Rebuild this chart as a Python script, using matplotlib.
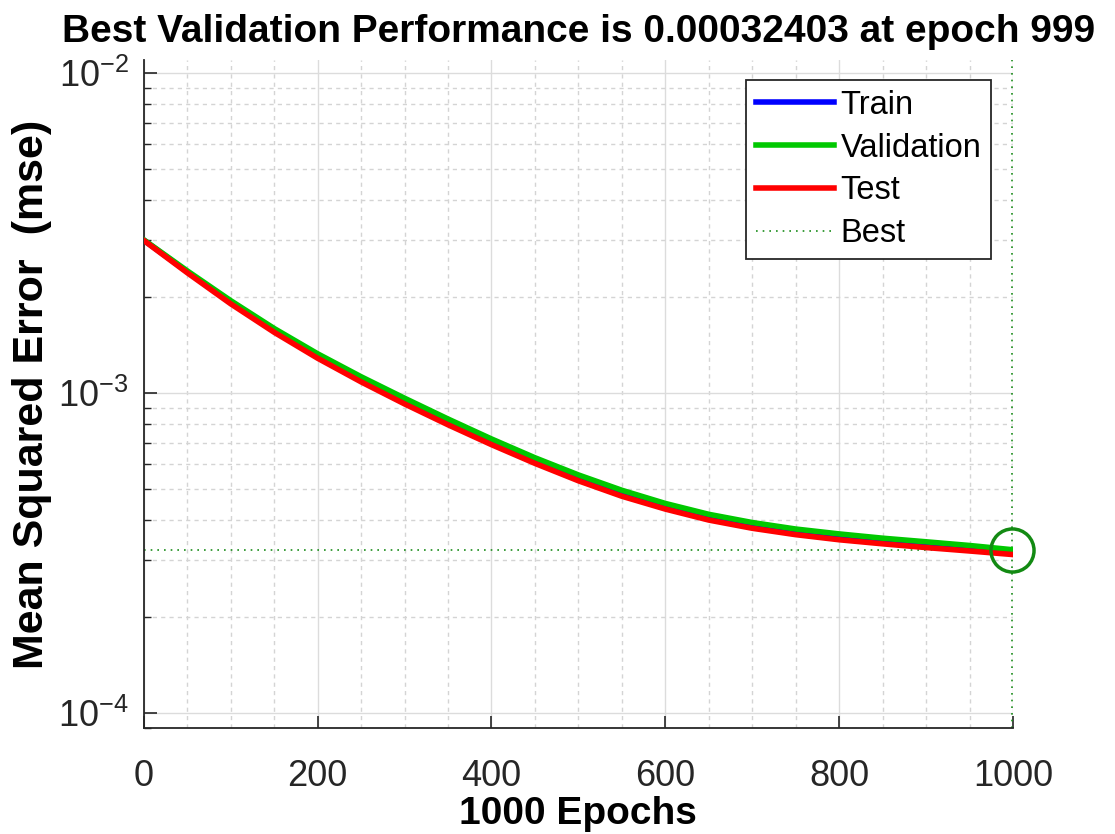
import numpy as np
import matplotlib
matplotlib.use('Agg')
import matplotlib.pyplot as plt
import matplotlib.ticker as ticker

plt.rcParams['font.family'] = ['Liberation Sans', 'DejaVu Sans']
plt.rcParams['mathtext.fontset'] = 'custom'
plt.rcParams['mathtext.rm'] = 'Liberation Sans'

# values
epochs = [0, 50, 100, 150, 200, 250, 300, 350, 400, 450, 500,
          550, 600, 650, 700, 750, 800, 850, 900, 950, 999]
train_mse = [3.006e-3, 2.393e-3, 1.923e-3, 1.570e-3, 1.306e-3, 1.104e-3, 9.44e-4,
             8.13e-4, 7.05e-4, 6.15e-4, 5.43e-4, 4.86e-4, 4.43e-4, 4.09e-4,
             3.85e-4, 3.68e-4, 3.56e-4, 3.45e-4, 3.36e-4, 3.27e-4, 3.18e-4]
val_mse = [3.013e-3, 2.410e-3, 1.945e-3, 1.592e-3, 1.327e-3, 1.125e-3, 9.64e-4,
           8.30e-4, 7.19e-4, 6.28e-4, 5.55e-4, 4.97e-4, 4.52e-4, 4.18e-4,
           3.94e-4, 3.76e-4, 3.63e-4, 3.52e-4, 3.43e-4, 3.34e-4, 3.2403e-4]
test_mse = [2.999e-3, 2.377e-3, 1.901e-3, 1.549e-3, 1.285e-3, 1.084e-3, 9.25e-4,
            7.96e-4, 6.90e-4, 6.03e-4, 5.32e-4, 4.76e-4, 4.34e-4, 4.01e-4,
            3.78e-4, 3.61e-4, 3.48e-4, 3.38e-4, 3.29e-4, 3.21e-4, 3.13e-4]
best_epoch = 999
best_perf = 0.00032403

xticks = [0, 200, 400, 600, 800, 1000]
yticks = [1e-4, 1e-3, 1e-2]
ytick_labels = [r'$\mathregular{10^{-4}}$', r'$\mathregular{10^{-3}}$', r'$\mathregular{10^{-2}}$']

fig = plt.figure(figsize=(11.15, 8.34), dpi=100)
ax = fig.add_axes([0.129, 0.127, 0.9085 - 0.129, 0.928 - 0.127])

lw = 4.0
ax.plot(epochs, train_mse, color='#0000ff', lw=lw, label='Train', zorder=3)
ax.plot(epochs, val_mse, color='#00c800', lw=lw, label='Validation', zorder=4)
ax.plot(epochs, test_mse, color='#ff0000', lw=lw, label='Test', zorder=5)
ax.axhline(best_perf, color='#1a8c1a', lw=1.2, ls=(0, (1, 3)), label='Best', zorder=2)
ax.axvline(best_epoch, color='#1a8c1a', lw=1.2, ls=(0, (1, 3)), zorder=2)
ax.plot([best_epoch], [best_perf], 'o', ms=31, mfc='none', mec='#138a13', mew=2.5,
        zorder=6, clip_on=False)

ax.set_yscale('log')
ax.set_xlim(0, 1000)
ax.set_ylim(10 ** -4.047, 10 ** -1.959)

ax.set_xticks(xticks)
ax.xaxis.set_minor_locator(ticker.MultipleLocator(50))
ax.set_yticks(yticks)
ax.set_yticklabels(ytick_labels)
ax.yaxis.set_minor_locator(ticker.LogLocator(base=10, subs=np.arange(2, 10)))
ax.yaxis.set_minor_formatter(ticker.NullFormatter())

ax.grid(which='major', color='#dcdcdc', lw=1.0, ls='-')
ax.grid(which='minor', color='#d4d4d4', lw=1.0, ls=(0, (3, 3)))
ax.set_axisbelow(True)

for s in ['top', 'right']:
    ax.spines[s].set_visible(False)
for s in ['left', 'bottom']:
    ax.spines[s].set_color('#262626')
    ax.spines[s].set_linewidth(1.3)

ax.tick_params(which='both', direction='in', colors='#262626', labelcolor='#262626')
ax.tick_params(which='major', length=9, width=1.2, labelsize=26)
ax.tick_params(axis='x', which='major', pad=22)
ax.tick_params(axis='y', which='major', pad=11)
ax.tick_params(which='minor', length=5, width=1.0)
ax.tick_params(axis='x', which='minor', length=0)

ax.set_title('Best Validation Performance is 0.00032403 at epoch 999',
             fontsize=28, fontweight='bold', pad=13)
ax.set_xlabel('1000 Epochs', fontsize=28, fontweight='bold', labelpad=2)
ax.set_ylabel('Mean Squared Error  (mse)', fontsize=31, fontweight='bold', labelpad=4)

leg = ax.legend(loc='upper right', bbox_to_anchor=(0.975, 0.970), borderaxespad=0,
                fontsize=23.5, frameon=True, fancybox=False, handlelength=2.4,
                handletextpad=0.2, labelspacing=0.36, borderpad=0.3)
leg.get_frame().set_edgecolor('#262626')
leg.get_frame().set_linewidth(1.3)
leg.get_frame().set_alpha(1)

fig.savefig('out.png', dpi=100)
